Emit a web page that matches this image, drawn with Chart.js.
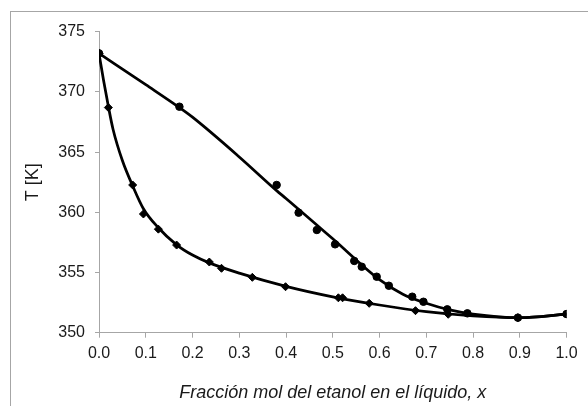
<!DOCTYPE html>
<html lang="es">
  <head>
    <meta charset="UTF-8" />
    <title>Diagrama T-x-y etanol-agua</title>
    <script src="https://cdn.jsdelivr.net/npm/chart.js"></script>
    <style>
      body { margin: 0; overflow: hidden; background: #fff; }
      .wrap { position: relative; width: 588px; height: 406px; }
      .marco {
        position: absolute; left: 10px; top: 11px;
        width: 620px; height: 440px;
        border: 1px solid #a6a6a6;
      }
      canvas { position: absolute; left: 0; top: 0; }
    </style>
  </head>

  <body>
    <div class="wrap">
      <div class="marco"></div>
      <canvas id="txy" width="588" height="406"></canvas>
    </div>

    <script>
      // datos experimentales: liquido (rombos) y vapor (circulos)
      const xLiq = [0, 0.02, 0.072, 0.095, 0.127, 0.166, 0.236, 0.262, 0.328, 0.399, 0.512, 0.521, 0.578, 0.677, 0.747, 0.896, 1.0];
      const tLiq = [373.2, 368.7, 362.27, 359.86, 358.6, 357.28, 355.87, 355.35, 354.6, 353.82, 352.9, 352.9, 352.44, 351.83, 351.53, 351.25, 351.55];

      const yVap = [0, 0.172, 0.38, 0.427, 0.466, 0.505, 0.546, 0.562, 0.594, 0.62, 0.67, 0.694, 0.745, 0.788, 0.896, 1.0];
      const tVap = [373.2, 368.77, 362.27, 359.97, 358.53, 357.34, 355.96, 355.48, 354.65, 353.9, 352.99, 352.57, 351.94, 351.61, 351.25, 351.55];

      // curvas suavizadas (burbuja y rocio)
      const xBurbuja = [0, 0.01, 0.02, 0.03, 0.05, 0.072, 0.095, 0.125, 0.166, 0.2, 0.236, 0.3, 0.4, 0.5, 0.6, 0.7, 0.8, 0.9, 1.0];
      const tBurbuja = [373.2, 370.9, 368.8, 366.9, 364.3, 362.2, 360.3, 358.8, 357.3, 356.45, 355.8, 354.95, 353.85, 352.98, 352.3, 351.75, 351.4, 351.25, 351.55];

      const xRocio = [0, 0.1, 0.172, 0.2, 0.3, 0.38, 0.4, 0.5, 0.6, 0.65, 0.7, 0.75, 0.8, 0.9, 1.0];
      const tRocio = [373.2, 370.6, 368.7, 367.9, 364.6, 361.8, 361.15, 357.8, 354.4, 353.2, 352.45, 351.9, 351.55, 351.25, 351.55];

      const xTicks = [0, 0.1, 0.2, 0.3, 0.4, 0.5, 0.6, 0.7, 0.8, 0.9, 1.0];
      const tTicks = [350, 355, 360, 365, 370, 375];

      const pares = (xs, ys) => xs.map((x, i) => ({ x: x, y: ys[i] }));

      const familia = "'Liberation Sans', Arial, sans-serif";
      const fuenteTicks = { family: familia, size: 16 };
      const fuenteTitulo = { family: familia, size: 18 };
      const gris = '#a6a6a6';
      const texto = '#1a1a1a';

      const curva = (xs, ys) => ({
        data: pares(xs, ys),
        showLine: true,
        borderColor: '#000',
        borderWidth: 2.75,
        pointRadius: 0,
        cubicInterpolationMode: 'monotone'
      });

      const puntos = (xs, ys, estilo, r) => ({
        data: pares(xs, ys),
        showLine: false,
        pointStyle: estilo,
        pointRadius: r,
        borderWidth: 1,
        pointBackgroundColor: '#000',
        pointBorderColor: '#000'
      });

      new Chart(document.getElementById('txy'), {
        type: 'scatter',
        data: {
          datasets: [
            curva(xBurbuja, tBurbuja),
            curva(xRocio, tRocio),
            puntos(xLiq, tLiq, 'rectRot', 4),
            puntos(yVap, tVap, 'circle', 3.75)
          ]
        },
        options: {
          responsive: false,
          animation: false,
          layout: { padding: { left: 0, top: 31.7, right: 21.5, bottom: 0 } },
          plugins: { legend: { display: false }, tooltip: { enabled: false } },
          scales: {
            x: {
              type: 'linear',
              min: 0,
              max: 1,
              afterBuildTicks: s => { s.ticks = xTicks.map(v => ({ value: v })); },
              afterFit: s => { s.height = 73.3; },
              grid: { drawOnChartArea: false, tickLength: 5, color: gris },
              border: { color: gris, width: 1 },
              ticks: {
                color: texto, font: fuenteTicks, padding: 6,
                callback: v => Number(v).toFixed(1)
              },
              title: {
                display: true,
                text: 'Fracción mol del etanol en el líquido, x',
                color: texto,
                font: { ...fuenteTitulo, style: 'italic' },
                padding: { top: 2, bottom: 2.2 }
              }
            },
            y: {
              type: 'linear',
              min: 350,
              max: 375,
              afterBuildTicks: s => { s.ticks = tTicks.map(v => ({ value: v })); },
              afterFit: s => { s.width = 99; },
              grid: { drawOnChartArea: false, tickLength: 4, color: gris },
              border: { color: gris, width: 1 },
              ticks: { color: texto, font: fuenteTicks, padding: 10 },
              title: {
                display: true,
                text: 'T [K]',
                color: texto,
                font: fuenteTitulo,
                padding: { top: 22.2, bottom: 0 }
              }
            }
          }
        }
      });
    </script>
  </body>
</html>
